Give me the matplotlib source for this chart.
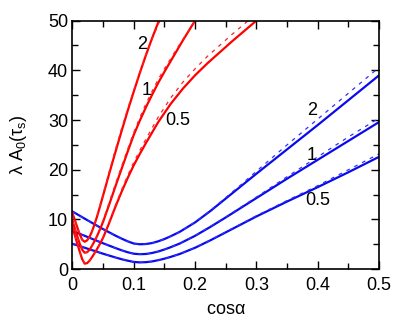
import matplotlib
matplotlib.use("Agg")
import matplotlib.pyplot as plt
from matplotlib.ticker import MultipleLocator, FuncFormatter

plt.rcParams['font.family'] = ['Liberation Sans', 'DejaVu Sans']
plt.rcParams['mathtext.fontset'] = 'custom'
plt.rcParams['mathtext.rm'] = 'Liberation Sans'
plt.rcParams['mathtext.it'] = 'Liberation Sans'

# ---- Blue curves ----
xb = [0, 0.025, 0.05, 0.07, 0.08, 0.09, 0.1, 0.11, 0.12, 0.13, 0.14, 0.15, 0.16,
      0.175, 0.2, 0.225, 0.25, 0.275, 0.3, 0.35, 0.4, 0.45, 0.5]
blue2 = [11.6, 9.8, 8.05, 6.75, 6.15, 5.6, 5.15, 5.0, 5.05, 5.25, 5.6, 6.05, 6.6,
         7.5, 9.4, 11.7, 14.2, 16.7, 19.2, 24.1, 29.0, 34.0, 39.0]
blue1 = [7.7, 6.45, 5.2, 4.25, 3.8, 3.4, 3.1, 3.0, 3.05, 3.25, 3.55, 3.95, 4.4,
         5.15, 6.7, 8.5, 10.4, 12.35, 14.3, 18.2, 22.0, 25.8, 29.6]
blue05 = [5.1, 4.1, 3.1, 2.35, 2.0, 1.7, 1.45, 1.35, 1.4, 1.55, 1.8, 2.1, 2.45,
          3.05, 4.3, 5.8, 7.4, 9.0, 10.6, 13.6, 16.5, 19.5, 22.6]
blue2_d = [11.6, 9.8, 8.05, 6.75, 6.15, 5.6, 5.15, 5.0, 5.05, 5.25, 5.6, 6.05, 6.6,
           7.5, 9.45, 11.8, 14.4, 17.0, 19.7, 25.0, 30.2, 35.4, 40.6]
blue1_d = [7.7, 6.45, 5.2, 4.25, 3.8, 3.4, 3.1, 3.0, 3.05, 3.25, 3.55, 3.95, 4.4,
           5.15, 6.75, 8.6, 10.5, 12.5, 14.5, 18.6, 22.6, 26.6, 30.4]
blue05_d = [5.1, 4.1, 3.1, 2.35, 2.0, 1.7, 1.45, 1.35, 1.4, 1.55, 1.8, 2.1, 2.45,
            3.05, 4.3, 5.85, 7.5, 9.1, 10.75, 13.8, 16.8, 20.0, 23.2]

# ---- Red curves ----
xr2 = [0, 0.004, 0.008, 0.012, 0.016, 0.02, 0.024, 0.028, 0.032, 0.036, 0.04,
       0.045, 0.05, 0.06, 0.07, 0.08, 0.09, 0.1, 0.11, 0.12, 0.13, 0.143]
red2 = [11.3, 9.9, 8.4, 7.0, 5.9, 5.5, 5.8, 6.5, 7.6, 9.0, 10.5,
        12.6, 14.8, 19.2, 23.5, 27.7, 31.8, 35.7, 39.5, 43.1, 46.5, 50.6]
red2_d = [11.3, 9.9, 8.4, 7.0, 5.9, 5.5, 5.8, 6.5, 7.6, 9.0, 10.6,
          12.8, 15.1, 19.6, 24.0, 28.2, 32.2, 36.0, 39.6, 43.1, 46.3, 50.1]

xr1 = [0, 0.004, 0.008, 0.012, 0.016, 0.02, 0.024, 0.028, 0.032, 0.036, 0.04,
       0.045, 0.05, 0.06, 0.07, 0.08, 0.09, 0.1, 0.11, 0.12, 0.13, 0.14, 0.15,
       0.16, 0.17, 0.18, 0.19, 0.2, 0.21]
red1 = [9.8, 8.2, 6.6, 5.1, 3.9, 3.3, 3.4, 3.9, 4.7, 5.6, 6.6,
        8.0, 9.5, 13.0, 16.6, 20.1, 23.6, 27.0, 29.9, 32.6, 35.1, 37.5, 39.7,
        41.8, 43.9, 46.0, 48.0, 50.0, 52.0]
red1_d = [9.8, 8.2, 6.6, 5.1, 3.9, 3.3, 3.4, 3.9, 4.7, 5.6, 6.7,
          8.2, 9.8, 13.4, 17.1, 20.6, 24.1, 27.5, 30.5, 33.3, 35.8, 38.2, 40.3,
          42.3, 44.3, 46.2, 48.1, 50.0, 51.9]

xr05 = [0, 0.004, 0.008, 0.012, 0.016, 0.02, 0.024, 0.028, 0.032, 0.036, 0.04,
        0.045, 0.05, 0.06, 0.07, 0.08, 0.09, 0.1, 0.11, 0.12, 0.14, 0.16, 0.18,
        0.2, 0.22, 0.24, 0.26, 0.28, 0.3]
red05 = [8.5, 6.8, 5.1, 3.5, 2.0, 1.1, 1.2, 1.7, 2.4, 3.2, 4.0,
         5.1, 6.3, 9.3, 12.5, 15.5, 18.3, 20.9, 23.2, 25.4, 29.6, 33.2, 36.3,
         39.0, 41.4, 43.6, 45.8, 47.9, 50.0]
red05_d = [8.5, 6.8, 5.1, 3.5, 2.0, 1.1, 1.2, 1.7, 2.4, 3.2, 4.0,
           5.1, 6.4, 9.5, 12.8, 15.9, 18.8, 21.5, 23.9, 26.2, 30.6, 34.4, 37.6,
           40.3, 42.8, 45.0, 47.2, 49.3, 51.4]

labels = ["2", "1", "0.5"]
red_label_pos = [(0.113, 45.1), (0.121, 36.0), (0.172, 30.0)]
blue_label_pos = [(0.39, 32.0), (0.39, 22.9), (0.40, 13.9)]

fig = plt.figure(figsize=(4.09, 3.27), dpi=100)
ax = fig.add_axes([0.177, 0.177, 0.750, 0.760])

sw, dw = 1.6, 0.9
blue_c, red_c = '#0a0aee', '#ff0000'
for ys in [blue2, blue1, blue05]:
    ax.plot(xb, ys, color=blue_c, lw=sw)
for ys in [blue2_d, blue1_d, blue05_d]:
    ax.plot(xb, ys, color='#3030ff', lw=dw, dashes=(3, 4))
for xs, ys in [(xr2, red2), (xr1, red1), (xr05, red05)]:
    ax.plot(xs, ys, color=red_c, lw=sw)
for xs, ys in [(xr2, red2_d), (xr1, red1_d), (xr05, red05_d)]:
    ax.plot(xs, ys, color='#ff2020', lw=dw, dashes=(3, 4))

for lab, (x, y) in zip(labels, red_label_pos):
    ax.text(x, y, lab, fontsize=13, ha='center', va='center')
for lab, (x, y) in zip(labels, blue_label_pos):
    ax.text(x, y, lab, fontsize=13, ha='center', va='center')

ax.set_xlim(0, 0.5)
ax.set_ylim(0, 50)
ax.xaxis.set_major_locator(MultipleLocator(0.1))
ax.xaxis.set_minor_locator(MultipleLocator(0.05))
ax.yaxis.set_major_locator(MultipleLocator(10))
ax.yaxis.set_minor_locator(MultipleLocator(5))
ax.xaxis.set_major_formatter(FuncFormatter(lambda v, p: '0' if abs(v) < 1e-9 else f'{v:g}'))
ax.tick_params(which='both', direction='in', top=True, right=True, labelsize=13)
ax.tick_params(axis='y', pad=3)
ax.tick_params(axis='x', pad=6)
ax.tick_params(which='major', length=6, width=1)
ax.tick_params(which='minor', length=4, width=1)
for s in ax.spines.values():
    s.set_linewidth(1.2)

ax.set_xlabel(r'cos$\alpha$', fontsize=13, labelpad=5)
ax.set_ylabel(r'$\lambda$ A$_0$($\tau_{\rm s}$)', fontsize=13, labelpad=14)

fig.savefig('out.png', dpi=100)
